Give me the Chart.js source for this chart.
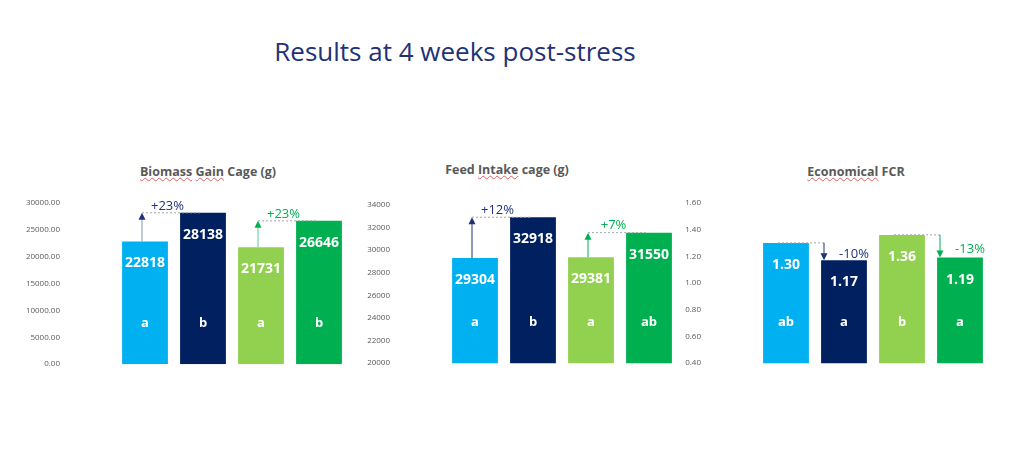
<!DOCTYPE html>
<html><head><meta charset="utf-8">
<script src="https://cdn.jsdelivr.net/npm/chart.js@4"></script>
<style>
body{margin:0;width:1024px;height:476px;background:#fff;position:relative;overflow:hidden;font-family:"Open Sans",sans-serif}
.t{position:absolute;white-space:nowrap;transform:translateX(-50%)}
#main{left:455px;top:33px;font-size:26px;color:#1F3276}
.sub{top:163px;font-size:12.5px;font-weight:bold;color:#595959}
.sp{text-decoration:underline wavy #e06060;text-decoration-thickness:1px}
.box{position:absolute}
</style></head><body>
<div id="main" class="t">Results at 4 weeks post-stress</div>
<div class="t sub" style="left:208px"><span class="sp">Biomass</span> <span class="sp">Gain</span> Cage (g)</div>
<div class="t sub" style="left:507px;top:161px">Feed <span class="sp">Intake</span> cage (g)</div>
<div class="t sub" style="left:856px"><span class="sp">Economical</span> FCR</div>
<div class="box" style="left:24px;top:150px;width:328px;height:267px"><canvas id="c1"></canvas></div>
<div class="box" style="left:354px;top:150px;width:328px;height:266px"><canvas id="c2"></canvas></div>
<div class="box" style="left:665px;top:150px;width:328px;height:266px"><canvas id="c3"></canvas></div>
<script>
const categories=["T1","T2","T3","T4"];
const colors=["#00B0F0","#002060","#92D050","#00B050"];
const biomass=[22818,28138,21731,26646];
const feed=[29304,32918,29381,31550];
const fcr=[1.30,1.17,1.36,1.19];
const biomassLetters=["a","b","a","b"];
const feedLetters=["a","b","a","ab"];
const fcrLetters=["ab","a","b","a"];
const biomassLabels=["22818","28138","21731","26646"];
const feedLabels=["29304","32918","29381","31550"];
const fcrLabels=["1.30","1.17","1.36","1.19"];
const biomassNotes=[{from:0,to:1,text:"+23%",color:"#1F3276",line:"#8497B0"},{from:2,to:3,text:"+23%",color:"#00B050",line:"#5BD08A"}];
const feedNotes=[{from:0,to:1,text:"+12%",color:"#1F3276",line:"#1F3276"},{from:2,to:3,text:"+7%",color:"#00B050",line:"#00B050"}];
const fcrNotes=[{from:0,to:1,text:"-10%",color:"#1F3276",line:"#1F3276"},{from:2,to:3,text:"-13%",color:"#00B050",line:"#00B050"}];

const decoCfg={};
function arrowHead(ctx,x,y,dir,col){ctx.fillStyle=col;ctx.beginPath();ctx.moveTo(x,y);ctx.lineTo(x-3.5,y-dir*7);ctx.lineTo(x+3.5,y-dir*7);ctx.closePath();ctx.fill();}
const deco={id:'deco',afterDatasetsDraw(ch){
  const ctx=ch.ctx,meta=ch.getDatasetMeta(0),ys=ch.scales.y,c=decoCfg[ch.canvas.id];
  if(!c)return;
  ctx.save();ctx.textAlign='center';ctx.textBaseline='middle';
  meta.data.forEach((b,i)=>{
    ctx.fillStyle='#fff';ctx.font='bold 14px "Open Sans",sans-serif';
    ctx.fillText(c.labels[i],b.x,b.y+22);
    ctx.font='bold 13px "Open Sans",sans-serif';
    ctx.fillText(c.letters[i],b.x,ys.bottom-41);
  });
  c.notes.forEach(n=>{
    const b1=meta.data[n.from],b2=meta.data[n.to];
    ctx.setLineDash([]);ctx.lineWidth=1;
    if(!c.down){
      const x=b1.x-3,yTop=b2.y;
      ctx.strokeStyle=n.line;ctx.beginPath();ctx.moveTo(x,b1.y);ctx.lineTo(x,yTop+6);ctx.stroke();
      arrowHead(ctx,x,yTop,-1,n.color);
      ctx.strokeStyle='#A6A6A6';ctx.setLineDash([2,2]);ctx.beginPath();ctx.moveTo(x,yTop);ctx.lineTo(b2.x-2,yTop);ctx.stroke();
      ctx.fillStyle=n.color;ctx.font='13px "Open Sans",sans-serif';ctx.fillText(n.text,(x+b2.x)/2-5,yTop-7);
    }else{
      const x=b2.x-20,y0=b1.y;
      ctx.strokeStyle='#A6A6A6';ctx.setLineDash([2,2]);ctx.beginPath();ctx.moveTo(b1.x-8,y0);ctx.lineTo(x,y0);ctx.stroke();
      ctx.setLineDash([]);ctx.strokeStyle=n.line;ctx.beginPath();ctx.moveTo(x,y0);ctx.lineTo(x,b2.y-6);ctx.stroke();
      arrowHead(ctx,x,b2.y,1,n.color);
      ctx.fillStyle=n.color;ctx.font='13px "Open Sans",sans-serif';ctx.fillText(n.text,b2.x+10,(y0+b2.y)/2+3);
    }
  });
  ctx.restore();
}};
function make(id,data,min,max,step,dec,padTop,labels,letters,notes,down){
  decoCfg[id]={labels,letters,notes,down};
  return new Chart(document.getElementById(id),{type:'bar',data:{labels:categories,datasets:[{data,backgroundColor:colors,barPercentage:0.79,categoryPercentage:1}]},
    options:{responsive:true,maintainAspectRatio:false,animation:false,
      layout:{padding:{top:padTop,bottom:6,right:4}},
      plugins:{legend:{display:false},tooltip:{enabled:false}},
      scales:{x:{display:false},
        y:{min,max,border:{display:false},grid:{display:false},
          afterFit(s){s.width=92;},
          ticks:{stepSize:step,padding:48,color:'#595959',font:{size:8,family:'"Open Sans",sans-serif'},callback:v=>v.toFixed(dec)}}}},
    plugins:[deco]});
}
make('c1',biomass,0,30000,5000,2,43,biomassLabels,biomassLetters,biomassNotes,false);
make('c2',feed,20000,34000,2000,0,55,feedLabels,feedLetters,feedNotes,false);
make('c3',fcr,0.4,1.6,0.2,2,42,fcrLabels,fcrLetters,fcrNotes,true);
</script></body></html>
